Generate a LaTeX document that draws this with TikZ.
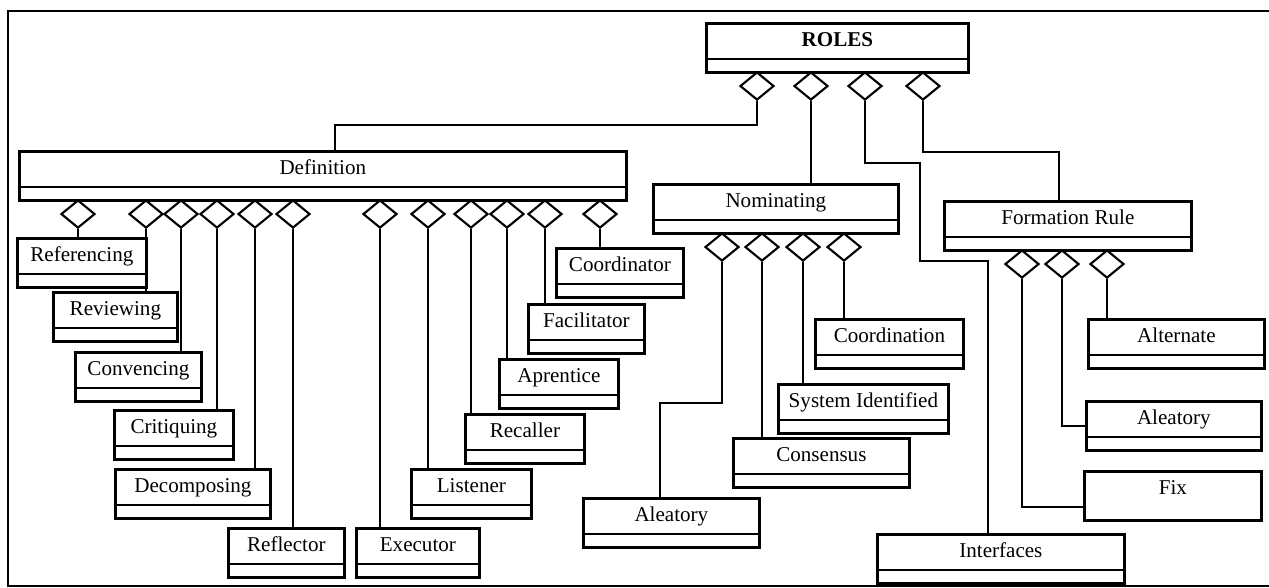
\documentclass[tikz,border=0pt]{standalone}
\usepackage{fontspec}
\setmainfont{Liberation Serif}
\usetikzlibrary{positioning}
\usetikzlibrary{shapes.geometric}

\tikzset{
    box/.style={rectangle, draw=black, line width=1.6pt, minimum height=0.98cm, inner sep=0pt, text height=0.3cm, text depth=0.36cm, anchor=north west, font=\fontsize{12}{14}\selectfont},
    cls/.style={box, path picture={\draw [line width=1.2pt] ([yshift=0.26cm]path picture bounding box.south west) -- ([yshift=0.26cm]path picture bounding box.south east);}},
    agg/.style={diamond, draw=black, line width=1.2pt, fill=white, minimum width=0.68cm, minimum height=0.56cm, inner sep=0pt, anchor=north},
    link/.style={line width=1.1pt}
}

\begin{document}
\begin{tikzpicture}[x=0.02cm, y=-0.02cm]
    \useasboundingbox (0,0) rectangle (1269,588);
    \draw [line width=1.6pt] (1269,11) -- (8,11) -- (8,586) -- (1269,586);

    \node (roles) [cls, minimum width=5.24cm, font=\fontsize{12}{14}\selectfont\bfseries] at (705,22) {ROLES};

    \node (defn) [cls, minimum width=12.14cm] at (18,150) {Definition};
    \node (refer) [cls, minimum width=2.58cm] at (16,237) {Referencing};
    \node (review) [cls, minimum width=2.48cm] at (52,291) {Reviewing};
    \node (convence) [cls, minimum width=2.52cm] at (74,351) {Convencing};
    \node (critique) [cls, minimum width=2.38cm] at (113,409) {Critiquing};
    \node (decomp) [cls, minimum width=3.10cm] at (114,468) {Decomposing};
    \node (reflect) [cls, minimum width=2.32cm] at (227,527) {Reflector};
    \node (execut) [cls, minimum width=2.46cm] at (355,527) {Executor};
    \node (listen) [cls, minimum width=2.40cm] at (410,468) {Listener};
    \node (recall) [cls, minimum width=2.38cm] at (464,413) {Recaller};
    \node (apprent) [cls, minimum width=2.38cm] at (498,358) {Aprentice};
    \node (facil) [cls, minimum width=2.32cm] at (527,303) {Facilitator};
    \node (coordr) [cls, minimum width=2.54cm] at (555,247) {Coordinator};

    \node (nomin) [cls, minimum width=4.90cm] at (652,183) {Nominating};
    \node (aleanom) [cls, minimum width=3.52cm] at (582,497) {Aleatory};
    \node (consens) [cls, minimum width=3.52cm] at (732,437) {Consensus};
    \node (sysid) [cls, minimum width=3.40cm] at (777,383) {System Identified};
    \node (coordn) [cls, minimum width=2.96cm] at (814,318) {Coordination};

    \node (formrule) [cls, minimum width=4.94cm] at (943,200) {Formation Rule};
    \node (altern) [cls, minimum width=3.52cm] at (1087,318) {Alternate};
    \node (aleaform) [cls, minimum width=3.50cm] at (1085,400) {Aleatory};
    \node (fix) [box, minimum width=3.54cm] at (1083,470) {Fix};
    \node (interf) [cls, minimum width=4.94cm] at (876,533) {Interfaces};

    % diamonds under ROLES
    \node (r1) [agg] at (757,71) {};
    \node (r2) [agg] at (811,71) {};
    \node (r3) [agg] at (865,71) {};
    \node (r4) [agg] at (923,71) {};

    % diamonds under Definition
    \node (d1) [agg] at (78,199) {};
    \node (d2) [agg] at (146,199) {};
    \node (d3) [agg] at (181,199) {};
    \node (d4) [agg] at (217,199) {};
    \node (d5) [agg] at (255,199) {};
    \node (d6) [agg] at (293,199) {};
    \node (d7) [agg] at (380,199) {};
    \node (d8) [agg] at (428,199) {};
    \node (d9) [agg] at (471,199) {};
    \node (d10) [agg] at (507,199) {};
    \node (d11) [agg] at (545,199) {};
    \node (d12) [agg] at (600,199) {};

    % diamonds under Nominating and Formation Rule
    \node (n1) [agg] at (722,232) {};
    \node (n2) [agg] at (762,232) {};
    \node (n3) [agg] at (803,232) {};
    \node (n4) [agg] at (844,232) {};
    \node (f1) [agg] at (1022,249) {};
    \node (f2) [agg] at (1062,249) {};
    \node (f3) [agg] at (1107,249) {};

    \coordinate (k1) at (335,125);
    \coordinate (k3a) at (920,163);
    \coordinate (k3b) at (988,261);
    \coordinate (k4) at (1059,152);
    \coordinate (k5) at (660,403);

    \draw [link] (r1.south) |- (k1) -- (k1 |- defn.north);
    \draw [link] (r2.south) -- (r2.south |- nomin.north);
    \draw [link] (r3.south) |- (k3a) |- (k3b) -- (k3b |- interf.north);
    \draw [link] (r4.south) |- (k4) -- (k4 |- formrule.north);

    \draw [link] (d1.south) -- (d1.south |- refer.north);
    \draw [link] (d2.south) -- (d2.south |- review.north);
    \draw [link] (d3.south) -- (d3.south |- convence.north);
    \draw [link] (d4.south) -- (d4.south |- critique.north);
    \draw [link] (d5.south) -- (d5.south |- decomp.north);
    \draw [link] (d6.south) -- (d6.south |- reflect.north);
    \draw [link] (d7.south) -- (d7.south |- execut.north);
    \draw [link] (d8.south) -- (d8.south |- listen.north);
    \draw [link] (d9.south) -- (d9.south |- recall.north);
    \draw [link] (d10.south) -- (d10.south |- apprent.north);
    \draw [link] (d11.south) -- (d11.south |- facil.north);
    \draw [link] (d12.south) -- (d12.south |- coordr.north);

    \draw [link] (n1.south) |- (k5) -- (k5 |- aleanom.north);
    \draw [link] (n2.south) -- (n2.south |- consens.north);
    \draw [link] (n3.south) -- (n3.south |- sysid.north);
    \draw [link] (n4.south) -- (n4.south |- coordn.north);

    \draw [link] (f1.south) |- ([yshift=-0.22cm]fix.west);
    \draw [link] (f2.south) |- (aleaform.west);
    \draw [link] (f3.south) -- (f3.south |- altern.north);
\end{tikzpicture}
\end{document}
